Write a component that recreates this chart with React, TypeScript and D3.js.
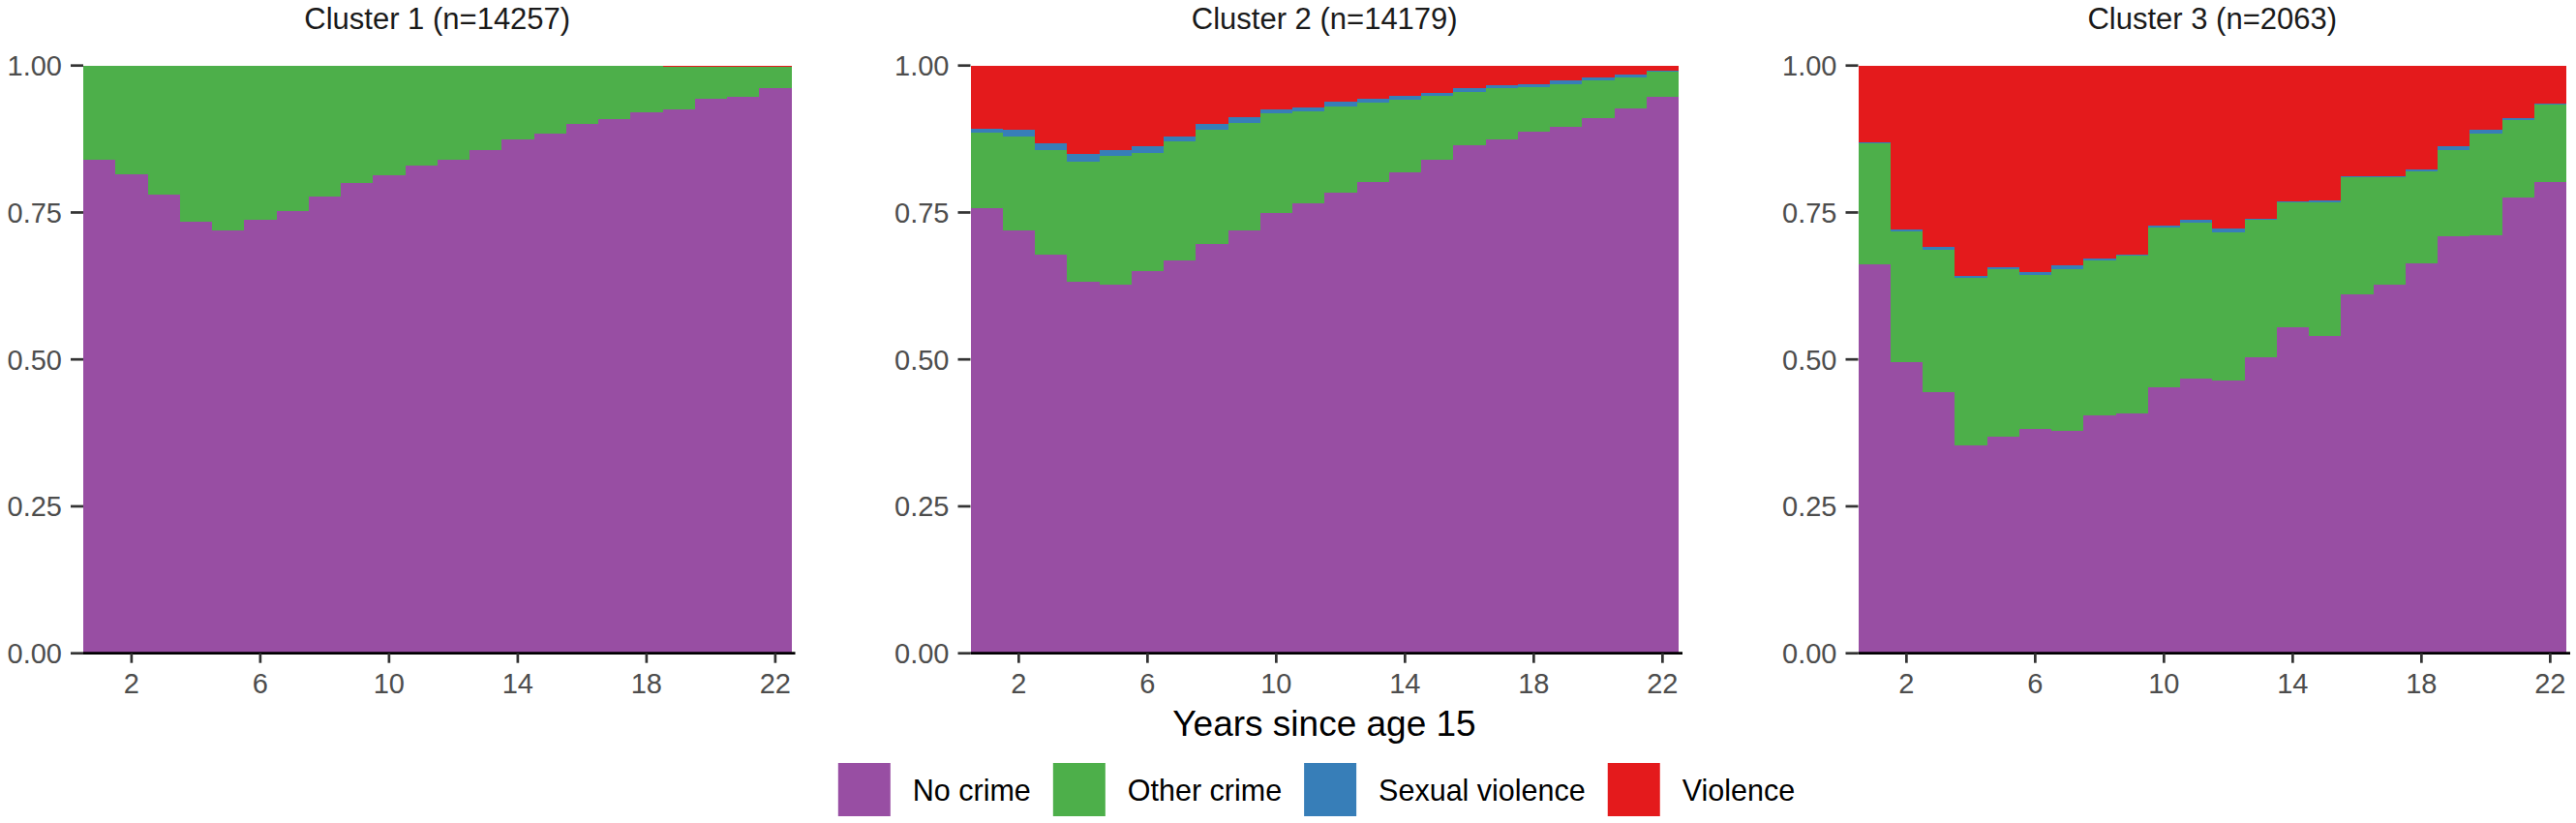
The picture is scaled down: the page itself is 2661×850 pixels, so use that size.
import React, { useEffect } from "react";
import * as d3 from "d3";

// ---------- data ----------
const years = [1, 2, 3, 4, 5, 6, 7, 8, 9, 10, 11, 12, 13, 14, 15, 16, 17, 18, 19, 20, 21, 22];
const categories = ["No crime", "Other crime", "Sexual violence", "Violence"];
const categoryColors = ["#984EA3", "#4DAF4A", "#377EB8", "#E41A1C"];
const clusterTitles = ["Cluster 1 (n=14257)", "Cluster 2 (n=14179)", "Cluster 3 (n=2063)"];
const xTickValues = [2, 6, 10, 14, 18, 22];
const yTickValues = [0, 0.25, 0.5, 0.75, 1];
const yTickLabels = ["0.00", "0.25", "0.50", "0.75", "1.00"];
const xAxisTitle = "Years since age 15";

// Cluster 1
const c1NoCrime = [0.839, 0.815, 0.78, 0.734, 0.719, 0.737, 0.753, 0.777, 0.8, 0.813, 0.83, 0.839, 0.856, 0.875, 0.884, 0.901, 0.909, 0.92, 0.925, 0.943, 0.947, 0.961];
const c1Other = [0.1605, 0.1845, 0.2195, 0.2655, 0.2805, 0.2625, 0.2465, 0.2225, 0.1995, 0.1865, 0.1695, 0.1605, 0.1435, 0.1245, 0.1155, 0.098, 0.09, 0.079, 0.0727, 0.0547, 0.0502, 0.0362];
const c1Sexual = [0.0002, 0.0002, 0.0002, 0.0002, 0.0002, 0.0002, 0.0002, 0.0002, 0.0002, 0.0002, 0.0002, 0.0002, 0.0002, 0.0002, 0.0002, 0.0002, 0.0002, 0.0002, 0.0003, 0.0003, 0.0008, 0.0008];
const c1Violence = [0.0003, 0.0003, 0.0003, 0.0003, 0.0003, 0.0003, 0.0003, 0.0003, 0.0003, 0.0003, 0.0003, 0.0003, 0.0003, 0.0003, 0.0003, 0.0008, 0.0008, 0.0008, 0.002, 0.002, 0.002, 0.002];

// Cluster 2
const c2NoCrime = [0.758, 0.719, 0.678, 0.632, 0.628, 0.651, 0.668, 0.696, 0.719, 0.749, 0.766, 0.783, 0.801, 0.819, 0.84, 0.864, 0.875, 0.887, 0.896, 0.91, 0.927, 0.946];
const c2Other = [0.128, 0.161, 0.179, 0.205, 0.218, 0.201, 0.203, 0.195, 0.183, 0.169, 0.156, 0.148, 0.136, 0.123, 0.109, 0.091, 0.086, 0.077, 0.073, 0.064, 0.053, 0.044];
const c2Sexual = [0.007, 0.01, 0.01, 0.013, 0.011, 0.011, 0.009, 0.009, 0.01, 0.007, 0.007, 0.008, 0.006, 0.006, 0.005, 0.006, 0.005, 0.005, 0.005, 0.005, 0.005, 0.001];
const c2Violence = [0.107, 0.11, 0.133, 0.15, 0.143, 0.137, 0.12, 0.1, 0.088, 0.075, 0.071, 0.061, 0.057, 0.052, 0.046, 0.039, 0.034, 0.031, 0.026, 0.021, 0.015, 0.009];

// Cluster 3
const c3NoCrime = [0.662, 0.495, 0.445, 0.354, 0.369, 0.381, 0.378, 0.405, 0.408, 0.452, 0.467, 0.464, 0.504, 0.555, 0.54, 0.611, 0.627, 0.664, 0.709, 0.711, 0.776, 0.801];
const c3Other = [0.205, 0.223, 0.241, 0.285, 0.284, 0.262, 0.275, 0.264, 0.269, 0.273, 0.265, 0.252, 0.234, 0.212, 0.227, 0.199, 0.183, 0.156, 0.148, 0.173, 0.132, 0.133];
const c3Sexual = [0.002, 0.003, 0.005, 0.003, 0.004, 0.006, 0.007, 0.003, 0.002, 0.003, 0.006, 0.006, 0.001, 0.002, 0.003, 0.001, 0.002, 0.004, 0.005, 0.006, 0.002, 0.001];
const c3Violence = [0.131, 0.279, 0.309, 0.358, 0.343, 0.351, 0.34, 0.328, 0.321, 0.272, 0.262, 0.278, 0.261, 0.231, 0.23, 0.189, 0.188, 0.176, 0.138, 0.11, 0.09, 0.065];

const clusterSeries = [
  [c1NoCrime, c1Other, c1Sexual, c1Violence],
  [c2NoCrime, c2Other, c2Sexual, c2Violence],
  [c3NoCrime, c3Other, c3Sexual, c3Violence],
];

// ---------- layout ----------
const W = 2661;
const H = 850;
const FONT = '"Liberation Sans", Arial, Helvetica, sans-serif';
const panelLefts = [86, 1002.5, 1919.5];
const panelWidth = 731.5;
const panelTop = 67.7;
const panelBottom = 674.7;

function measure(text: string, size: number) {
  const c = document.createElement("canvas").getContext("2d");
  if (!c) return text.length * size * 0.5;
  c.font = `${size}px "Liberation Sans", Arial, sans-serif`;
  return c.measureText(text).width;
}

function Panel({ idx }: { idx: number }) {
  const left = panelLefts[idx];
  const x = d3.scaleLinear().domain([0.5, 22.5]).range([left, left + panelWidth]);
  const y = d3.scaleLinear().domain([0, 1]).range([panelBottom, panelTop]);
  const rows = years.map((yr, i) => {
    const r: any = { year: yr };
    categories.forEach((c, k) => (r[c] = clusterSeries[idx][k][i]));
    return r;
  });
  const stacked = d3.stack<any>().keys(categories).offset(d3.stackOffsetExpand)(rows);

  return (
    <g>
      <text
        x={left + panelWidth / 2}
        y={29.5}
        textAnchor="middle"
        fontSize={31}
        fill="#1a1a1a"
        fontFamily={FONT}
      >
        {clusterTitles[idx]}
      </text>
      {stacked.map((layer, k) => (
        <g key={k} fill={categoryColors[k]} shapeRendering="crispEdges">
          {layer.map((d, i) => (
            <rect
              key={i}
              x={x(d.data.year - 0.5)}
              width={x(d.data.year + 0.5) - x(d.data.year - 0.5)}
              y={y(d[1])}
              height={Math.max(0, y(d[0]) - y(d[1]))}
            />
          ))}
        </g>
      ))}
      {/* x axis */}
      <line x1={left} x2={left + panelWidth + 4} y1={panelBottom} y2={panelBottom} stroke="#000" strokeWidth={2.7} />
      {xTickValues.map((t) => (
        <g key={t}>
          <line x1={x(t)} x2={x(t)} y1={panelBottom} y2={panelBottom + 10} stroke="#333" strokeWidth={2.7} />
          <text x={x(t)} y={716} textAnchor="middle" fontSize={29} fill="#4d4d4d" fontFamily={FONT}>
            {t}
          </text>
        </g>
      ))}
      {/* y axis */}
      {yTickValues.map((t, i) => (
        <g key={t}>
          <line x1={left - 13} x2={left} y1={y(t)} y2={y(t)} stroke="#333" strokeWidth={2.7} />
          <text x={left - 22} y={y(t)} dy="0.36em" textAnchor="end" fontSize={29} fill="#4d4d4d" fontFamily={FONT}>
            {yTickLabels[i]}
          </text>
        </g>
      ))}
    </g>
  );
}

function Legend() {
  const keyW = 54;
  const keyH = 55;
  const gap = 23;
  const size = 30.5;
  const widths = categories.map((c) => measure(c, size));
  const total = categories.length * (keyW + gap) + d3.sum(widths) + (categories.length - 1) * gap;
  let cx = 1360 - total / 2;
  const items = categories.map((c, i) => {
    const item = { c, color: categoryColors[i], x: cx };
    cx += keyW + gap + widths[i] + gap;
    return item;
  });
  return (
    <g>
      {items.map((it) => (
        <g key={it.c}>
          <rect x={it.x} y={788} width={keyW} height={keyH} fill={it.color} />
          <text x={it.x + keyW + gap} y={827} fontSize={size} fill="#000" fontFamily={FONT}>
            {it.c}
          </text>
        </g>
      ))}
    </g>
  );
}

export default function App() {
  useEffect(() => {
    document.body.style.margin = "0";
    document.body.style.overflow = "hidden";
  }, []);
  return (
    <svg width={W} height={H} viewBox={`0 0 ${W} ${H}`} style={{ display: "block", background: "#fff" }}>
      <rect x={0} y={0} width={W} height={H} fill="#fff" />
      {clusterTitles.map((_, i) => (
        <Panel key={i} idx={i} />
      ))}
      <text x={1368} y={760} textAnchor="middle" fontSize={37} fill="#000" fontFamily={FONT}>
        {xAxisTitle}
      </text>
      <Legend />
    </svg>
  );
}
